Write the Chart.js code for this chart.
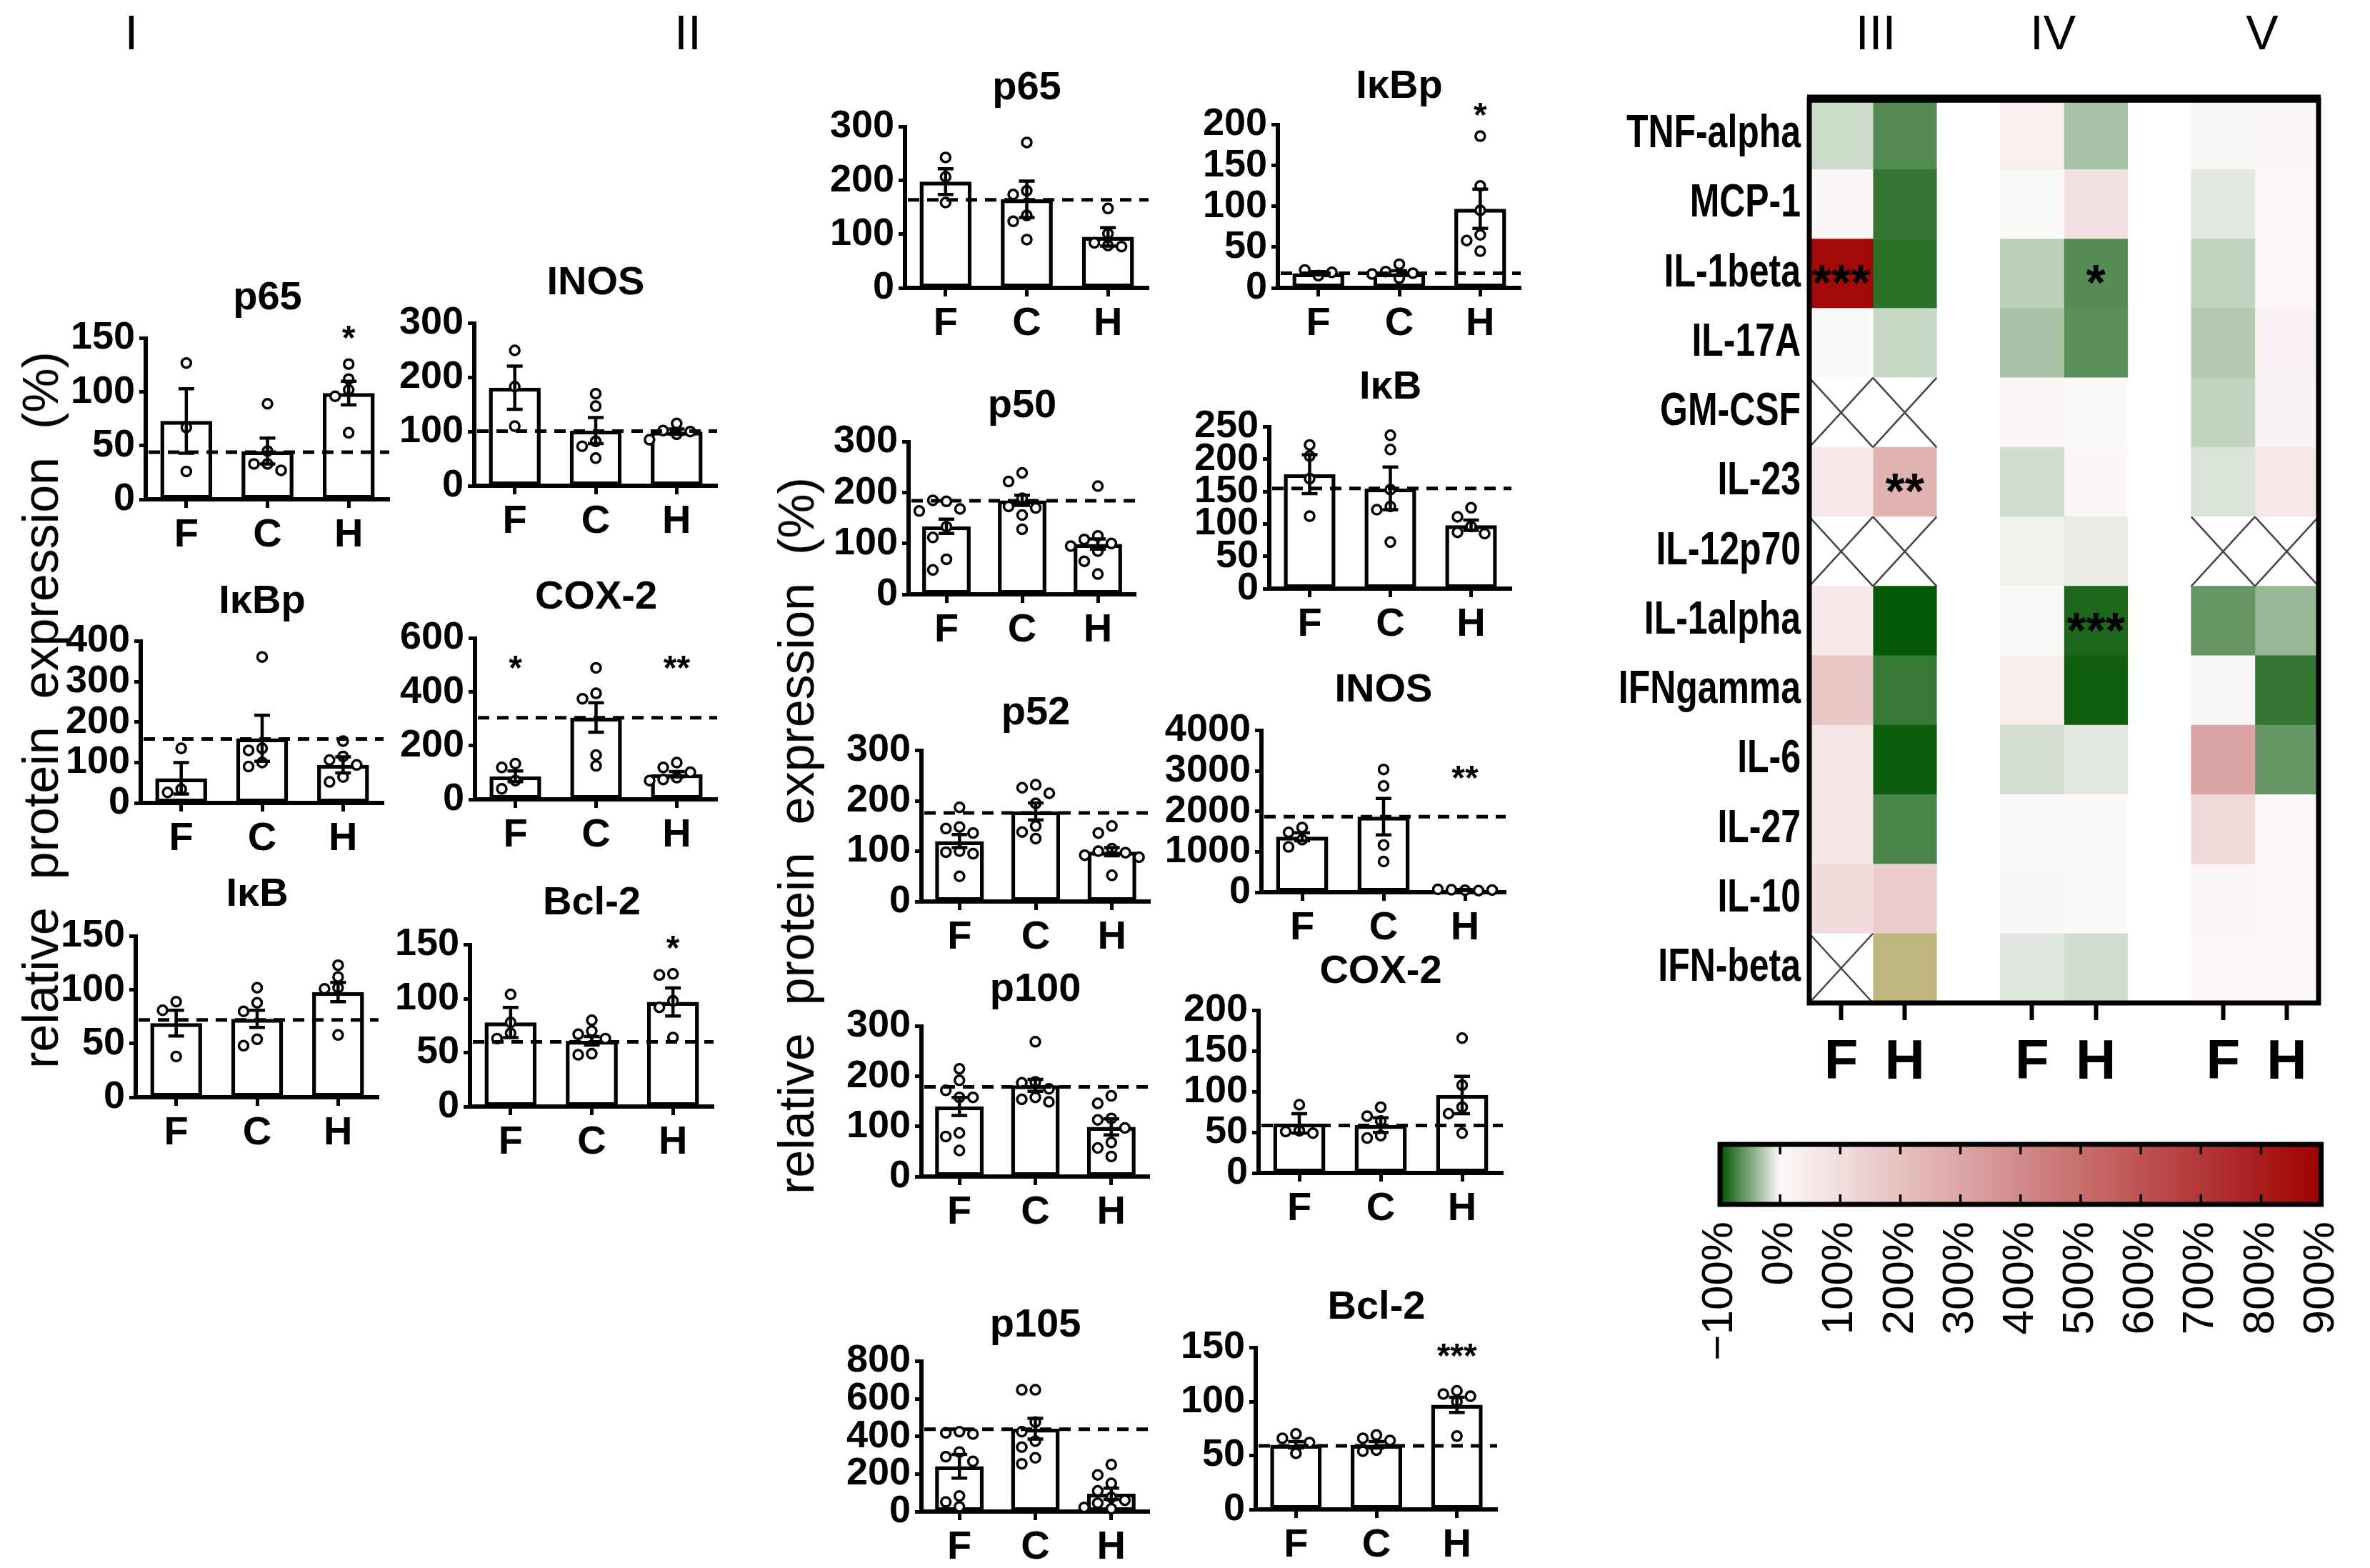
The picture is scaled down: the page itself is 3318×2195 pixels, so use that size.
<!DOCTYPE html>
<html><head><meta charset="utf-8">
<script src="https://cdn.jsdelivr.net/npm/chart.js@4.4.0/dist/chart.umd.min.js"></script>
<style>
html,body{margin:0;padding:0;background:#fff;}
#root{position:relative;width:3318px;height:2195px;overflow:hidden;background:#fff;}
#root canvas{position:absolute;}
.lbl{position:absolute;font-family:'Liberation Sans',Arial,sans-serif;color:#000;white-space:pre;line-height:1;}
</style></head><body><div id="root"></div>
<script>
// ---------------- DATA ----------------
const groups = ['F', 'C', 'H'];

// Section I / II (left)
const I_p65_mean = [73, 45, 99];
const I_p65_sem = [30, 12, 11];
const I_p65_ref = 44;
const I_p65_pts = [[127, 67, 26], [89, 45, 33, 33, 27], [126, 112, 102, 96, 62]];
const I_p65_sig = ['', '', '*'];
const I_p65_sigLevel = 155;

const I_INOS_mean = [181, 102, 100];
const I_INOS_sem = [40, 24, 5];
const I_INOS_ref = 101;
const I_INOS_pts = [[250, 183, 110], [170, 147, 82, 73, 51], [115, 102, 100, 95, 85]];
const I_INOS_sig = ['', '', ''];
const I_INOS_sigLevel = 0;

const I_IkBp_mean = [61, 160, 94];
const I_IkBp_sem = [39, 57, 20];
const I_IkBp_ref = 158;
const I_IkBp_pts = [[135, 34, 26], [361, 135, 130, 100, 90], [153, 115, 106, 94, 64, 52]];
const I_IkBp_sig = ['', '', ''];
const I_IkBp_sigLevel = 0;

const I_COX2_mean = [86, 305, 94];
const I_COX2_sem = [20, 55, 10];
const I_COX2_ref = 304;
const I_COX2_pts = [[133, 119, 70, 39], [490, 395, 375, 165, 125], [137, 119, 101, 81, 74, 70]];
const I_COX2_sig = ['*', '', '**'];
const I_COX2_sigLevel = 510;

const I_IkB_mean = [69, 73, 98];
const I_IkB_sem = [12, 8, 9];
const I_IkB_ref = 72;
const I_IkB_pts = [[89, 81, 38], [102, 88, 80, 54, 48], [123, 112, 102, 101, 58]];
const I_IkB_sig = ['', '', ''];
const I_IkB_sigLevel = 0;

const I_Bcl2_mean = [78, 61, 97];
const I_Bcl2_sem = [14, 4, 13];
const I_Bcl2_ref = 60;
const I_Bcl2_pts = [[104, 78, 68, 63], [80, 70, 67, 63, 49, 48], [123, 122, 98, 92, 64]];
const I_Bcl2_sig = ['', '', '*'];
const I_Bcl2_sigLevel = 152;

// Middle section
const II_p65_mean = [198, 165, 95];
const II_p65_sem = [24, 34, 17];
const II_p65_ref = 164;
const II_p65_pts = [[243, 207, 159], [271, 181, 174, 135, 124, 90], [148, 101, 84, 79, 77]];
const II_p65_sig = ['', '', ''];
const II_p65_sigLevel = 0;

const II_IkBp_mean = [18, 18, 97];
const II_IkBp_sem = [2, 3, 24];
const II_IkBp_ref = 18;
const II_IkBp_pts = [[15, 22, 19], [29, 20, 18, 17, 12], [186, 125, 95, 65, 58, 45]];
const II_IkBp_sig = ['', '', '*'];
const II_IkBp_sigLevel = 218;

const II_p50_mean = [134, 185, 99];
const II_p50_sem = [14, 10, 10];
const II_p50_ref = 184;
const II_p50_pts = [[183, 185, 168, 164, 133, 112, 69, 48], [239, 222, 189, 173, 170, 156, 128], [213, 115, 108, 100, 95, 85, 65, 40]];
const II_p50_sig = ['', '', ''];
const II_p50_sigLevel = 0;

const II_IkB_mean = [177, 155, 98];
const II_IkB_sem = [30, 33, 8];
const II_IkB_ref = 155;
const II_IkB_pts = [[222, 205, 170, 112], [237, 215, 153, 127, 122, 72], [125, 111, 96, 87, 85]];
const II_IkB_sig = ['', '', ''];
const II_IkB_sigLevel = 0;

const II_p52_mean = [120, 179, 99];
const II_p52_sem = [13, 17, 8];
const II_p52_ref = 176;
const II_p52_pts = [[187, 148, 145, 136, 100, 98, 95, 50], [232, 226, 215, 195, 150, 138, 125], [150, 136, 105, 100, 97, 92, 88, 52]];
const II_p52_sig = ['', '', ''];
const II_p52_sigLevel = 0;

const II_INOS_mean = [1372, 1869, 55];
const II_INOS_sem = [100, 450, 10];
const II_INOS_ref = 1869;
const II_INOS_pts = [[1600, 1480, 1300, 1120], [3036, 2628, 1168, 759], [50, 60, 40, 70, 55]];
const II_INOS_sig = ['', '', '**'];
const II_INOS_sigLevel = 2960;

const II_p100_mean = [140, 182, 99];
const II_p100_sem = [18, 12, 16];
const II_p100_ref = 179;
const II_p100_pts = [[215, 192, 172, 158, 158, 87, 80, 52], [269, 189, 187, 175, 158, 154, 149], [161, 146, 116, 113, 97, 68, 57, 40]];
const II_p100_sig = ['', '', ''];
const II_p100_sigLevel = 0;

const II_COX2_mean = [61, 59, 96];
const II_COX2_sem = [12, 9, 23];
const II_COX2_ref = 58.5;
const II_COX2_pts = [[84, 52, 51, 49], [81, 70, 64, 46, 43], [166, 108, 81, 73, 49]];
const II_COX2_sig = ['', '', ''];
const II_COX2_sigLevel = 0;

const II_p105_mean = [241, 441, 95];
const II_p105_sem = [63, 55, 30];
const II_p105_ref = 438;
const II_p105_pts = [[425, 419, 413, 317, 292, 267, 83, 51, 25], [648, 648, 476, 425, 375, 343, 286, 254], [250, 195, 150, 110, 75, 60, 45, 22, 15]];
const II_p105_sig = ['', '', ''];
const II_p105_sigLevel = 0;

const II_Bcl2_mean = [60, 60, 97];
const II_Bcl2_sem = [3, 3, 7];
const II_Bcl2_ref = 59;
const II_Bcl2_pts = [[70, 66, 62, 52], [69, 66, 64, 55, 54], [110, 107, 105, 100, 68]];
const II_Bcl2_sig = ['', '', '***'];
const II_Bcl2_sigLevel = 147;

// Heatmap (percent change; null = not measured)
const heatRows = ['TNF-alpha', 'MCP-1', 'IL-1beta', 'IL-17A', 'GM-CSF', 'IL-23', 'IL-12p70', 'IL-1alpha', 'IFNgamma', 'IL-6', 'IL-27', 'IL-10', 'IFN-beta'];
const heatIII_F = [-19, 7, 865, 0, null, 60, null, 60, 185, 70, 70, 110, null];
const heatIII_H = [-67, -80, -83, -21, null, 256, null, -98, -78, -95, -71, 160, 1000];
const heatIV_F = [35, 0, -25, -33, 18, -17, -5, 5, 40, -16, 0, -1, -11];
const heatIV_H = [-33, 90, -66, -64, 0, 7, -8, -89, -94, -10, 0, 0, -17];
const heatV_F = [-2, -10, -23, -29, -23, -13, null, -60, -1, 303, 120, 18, 2];
const heatV_H = [18, 3, 3, 30, 20, 60, null, -40, -80, -60, 3, 3, 2];
const heatColLabels = ['F', 'H', '', 'F', 'H', '', 'F', 'H'];
const heatStars = [[0, 2, '***'], [1, 5, '**'], [4, 2, '*'], [4, 7, '***']]; // [column, row, label]
const colorbarTicks = [-100, 0, 100, 200, 300, 400, 500, 600, 700, 800, 900];

// ---------------- LAYOUT (pixels) ----------------
const LAYOUT = {
  I_p65: {L: 204, R: 545, TOP: 474, ZERO: 699, TY: 418},
  I_INOS: {L: 664, R: 1004, TOP: 453, ZERO: 680, TY: 397},
  I_IkBp: {L: 197, R: 537, TOP: 898, ZERO: 1124, TY: 843},
  I_COX2: {L: 665, R: 1004, TOP: 894, ZERO: 1119, TY: 837},
  I_IkB: {L: 190, R: 530, TOP: 1311, ZERO: 1536, TY: 1253},
  I_Bcl2: {L: 658, R: 999, TOP: 1323, ZERO: 1549, TY: 1265},
  II_p65: {L: 1267, R: 1608, TOP: 178, ZERO: 403, TY: 124},
  II_IkBp: {L: 1789, R: 2129, TOP: 175, ZERO: 403, TY: 122},
  II_p50: {L: 1272, R: 1590, TOP: 619, ZERO: 832, TY: 569},
  II_IkB: {L: 1777, R: 2116, TOP: 598, ZERO: 824, TY: 543},
  II_p52: {L: 1290, R: 1610, TOP: 1051, ZERO: 1262, TY: 999},
  II_INOS: {L: 1766, R: 2108, TOP: 1023, ZERO: 1249, TY: 967},
  II_p100: {L: 1290, R: 1609, TOP: 1437, ZERO: 1647, TY: 1386},
  II_COX2: {L: 1762, R: 2104, TOP: 1415, ZERO: 1642, TY: 1361},
  II_p105: {L: 1290, R: 1609, TOP: 1906, ZERO: 2116, TY: 1856},
  II_Bcl2: {L: 1758, R: 2096, TOP: 1887, ZERO: 2113, TY: 1831}
};

const PANELS = [
  {id: 'I_p65', title: 'p65', ymax: 150, step: 50, mean: I_p65_mean, sem: I_p65_sem, ref: I_p65_ref, pts: I_p65_pts, sig: I_p65_sig, sigLevel: I_p65_sigLevel},
  {id: 'I_INOS', title: 'INOS', ymax: 300, step: 100, mean: I_INOS_mean, sem: I_INOS_sem, ref: I_INOS_ref, pts: I_INOS_pts, sig: I_INOS_sig, sigLevel: I_INOS_sigLevel},
  {id: 'I_IkBp', title: 'IκBp', ymax: 400, step: 100, mean: I_IkBp_mean, sem: I_IkBp_sem, ref: I_IkBp_ref, pts: I_IkBp_pts, sig: I_IkBp_sig, sigLevel: I_IkBp_sigLevel},
  {id: 'I_COX2', title: 'COX-2', ymax: 600, step: 200, mean: I_COX2_mean, sem: I_COX2_sem, ref: I_COX2_ref, pts: I_COX2_pts, sig: I_COX2_sig, sigLevel: I_COX2_sigLevel},
  {id: 'I_IkB', title: 'IκB', ymax: 150, step: 50, mean: I_IkB_mean, sem: I_IkB_sem, ref: I_IkB_ref, pts: I_IkB_pts, sig: I_IkB_sig, sigLevel: I_IkB_sigLevel},
  {id: 'I_Bcl2', title: 'Bcl-2', ymax: 150, step: 50, mean: I_Bcl2_mean, sem: I_Bcl2_sem, ref: I_Bcl2_ref, pts: I_Bcl2_pts, sig: I_Bcl2_sig, sigLevel: I_Bcl2_sigLevel},
  {id: 'II_p65', title: 'p65', ymax: 300, step: 100, mean: II_p65_mean, sem: II_p65_sem, ref: II_p65_ref, pts: II_p65_pts, sig: II_p65_sig, sigLevel: II_p65_sigLevel},
  {id: 'II_IkBp', title: 'IκBp', ymax: 200, step: 50, mean: II_IkBp_mean, sem: II_IkBp_sem, ref: II_IkBp_ref, pts: II_IkBp_pts, sig: II_IkBp_sig, sigLevel: II_IkBp_sigLevel},
  {id: 'II_p50', title: 'p50', ymax: 300, step: 100, mean: II_p50_mean, sem: II_p50_sem, ref: II_p50_ref, pts: II_p50_pts, sig: II_p50_sig, sigLevel: II_p50_sigLevel},
  {id: 'II_IkB', title: 'IκB', ymax: 250, step: 50, mean: II_IkB_mean, sem: II_IkB_sem, ref: II_IkB_ref, pts: II_IkB_pts, sig: II_IkB_sig, sigLevel: II_IkB_sigLevel},
  {id: 'II_p52', title: 'p52', ymax: 300, step: 100, mean: II_p52_mean, sem: II_p52_sem, ref: II_p52_ref, pts: II_p52_pts, sig: II_p52_sig, sigLevel: II_p52_sigLevel},
  {id: 'II_INOS', title: 'INOS', ymax: 4000, step: 1000, mean: II_INOS_mean, sem: II_INOS_sem, ref: II_INOS_ref, pts: II_INOS_pts, sig: II_INOS_sig, sigLevel: II_INOS_sigLevel},
  {id: 'II_p100', title: 'p100', ymax: 300, step: 100, mean: II_p100_mean, sem: II_p100_sem, ref: II_p100_ref, pts: II_p100_pts, sig: II_p100_sig, sigLevel: II_p100_sigLevel},
  {id: 'II_COX2', title: 'COX-2', ymax: 200, step: 50, mean: II_COX2_mean, sem: II_COX2_sem, ref: II_COX2_ref, pts: II_COX2_pts, sig: II_COX2_sig, sigLevel: II_COX2_sigLevel},
  {id: 'II_p105', title: 'p105', ymax: 800, step: 200, mean: II_p105_mean, sem: II_p105_sem, ref: II_p105_ref, pts: II_p105_pts, sig: II_p105_sig, sigLevel: II_p105_sigLevel},
  {id: 'II_Bcl2', title: 'Bcl-2', ymax: 150, step: 50, mean: II_Bcl2_mean, sem: II_Bcl2_sem, ref: II_Bcl2_ref, pts: II_Bcl2_pts, sig: II_Bcl2_sig, sigLevel: II_Bcl2_sigLevel}
];

// ---------------- RENDERING ----------------
const FONT = "'Liberation Sans', Arial, sans-serif";
Chart.defaults.font.family = FONT;
Chart.defaults.color = '#000';
Chart.defaults.animation = false;
Chart.defaults.plugins.legend.display = false;
Chart.defaults.plugins.tooltip.enabled = false;
Chart.defaults.events = [];

const root = document.getElementById('root');

function makeCanvas(left, top, w, h) {
  const c = document.createElement('canvas');
  c.width = Math.round(w); c.height = Math.round(h);
  c.style.left = Math.round(left) + 'px'; c.style.top = Math.round(top) + 'px';
  c.style.width = Math.round(w) + 'px'; c.style.height = Math.round(h) + 'px';
  root.appendChild(c);
  return c;
}

function addText(text, x, y, size, extraTransform, weight) {
  const d = document.createElement('div');
  d.className = 'lbl';
  d.textContent = text;
  d.style.left = x + 'px'; d.style.top = y + 'px';
  d.style.fontSize = size + 'px';
  d.style.fontWeight = weight || 'normal';
  d.style.transform = 'translate(-50%,-50%)' + (extraTransform || '');
  root.appendChild(d);
}

// simple beeswarm: horizontal offsets (in category units) so circles do not overlap
function swarm(vals, pxPerUnit, catPx) {
  const placed = [], out = [];
  const D = 15, STEP = 19;
  vals.forEach(v => {
    const y = v * pxPerUnit;
    let off = 0;
    for (const c of [0, -1, 1, -2, 2, -3, 3, -4, 4]) {
      const o = c * STEP;
      if (placed.every(p => Math.hypot(p.o - o, p.y - y) >= D)) { off = o; break; }
    }
    placed.push({o: off, y});
    out.push(off / catPx);
  });
  return out;
}

function makeExtras(p) {
  return {
    id: 'extras',
    afterDatasetsDraw(chart) {
      const ctx = chart.ctx, xs = chart.scales.x, ys = chart.scales.y, ca = chart.chartArea;
      ctx.save();
      ctx.strokeStyle = '#000';
      ctx.lineWidth = 4.5;
      p.mean.forEach((m, i) => {
        const x = xs.getPixelForValue(i);
        const yTop = ys.getPixelForValue(m + p.sem[i]);
        const yBot = ys.getPixelForValue(Math.max(0, m - p.sem[i]));
        ctx.beginPath();
        ctx.moveTo(x, yBot); ctx.lineTo(x, yTop);
        ctx.moveTo(x - 11, yTop); ctx.lineTo(x + 11, yTop);
        ctx.moveTo(x - 11, yBot); ctx.lineTo(x + 11, yBot);
        ctx.stroke();
      });
      ctx.setLineDash([16, 11]);
      ctx.lineWidth = 5;
      const yr = ys.getPixelForValue(p.ref);
      ctx.beginPath(); ctx.moveTo(ca.left + 4, yr); ctx.lineTo(ca.right, yr); ctx.stroke();
      ctx.setLineDash([]);
      ctx.fillStyle = '#000';
      ctx.font = 'bold 48px ' + FONT;
      ctx.textAlign = 'center';
      ctx.textBaseline = 'middle';
      p.sig.forEach((s, i) => {
        if (s) ctx.fillText(s, xs.getPixelForValue(i), ys.getPixelForValue(p.sigLevel) + 10);
      });
      ctx.restore();
    }
  };
}

const YW = 165, XH = 110, PT = 30, TFS = 56, TLH = TFS * 1.2;

function barPanel(p) {
  const lay = LAYOUT[p.id];
  const plotW = lay.R - lay.L, plotH = lay.ZERO - lay.TOP;
  const cTop = lay.TY - PT - TLH / 2;
  const left = lay.L - YW;
  const padR = 30;
  const w = YW + plotW + padR;
  const h = (lay.TOP - cTop) + plotH + XH;
  const cv = makeCanvas(left, cTop, w, h);
  const catPx = plotW / 3, pxPerUnit = plotH / p.ymax;
  const scatter = [];
  p.pts.forEach((vals, gi) => {
    const offs = swarm(vals, pxPerUnit, catPx);
    vals.forEach((v, k) => scatter.push({x: gi + offs[k], y: v}));
  });
  new Chart(cv, {
    type: 'bar',
    data: {
      datasets: [
        {type: 'bar', data: p.mean.map((v, i) => ({x: i, y: v})), backgroundColor: '#fff', borderColor: '#000',
         borderWidth: 5.5, borderSkipped: false, barPercentage: 0.64, categoryPercentage: 1, order: 2},
        {type: 'scatter', data: scatter, pointRadius: 6.5, pointBorderWidth: 3.5, pointBackgroundColor: '#fff',
         pointBorderColor: '#000', showLine: false, order: 1, clip: false}
      ]
    },
    options: {
      responsive: false, devicePixelRatio: 1, animation: false, events: [],
      layout: {padding: {left: 0, right: padR, top: 0, bottom: 0}},
      plugins: {
        legend: {display: false}, tooltip: {enabled: false},
        title: {display: true, text: p.title, fullSize: false, color: '#000',
                font: {size: TFS, weight: 'bold', lineHeight: 1.2},
                padding: {top: PT, bottom: lay.TOP - lay.TY - TLH / 2}}
      },
      scales: {
        x: {type: 'linear', min: -0.5, max: 2.5, offset: false,
            afterBuildTicks: s => { s.ticks = [0, 1, 2].map(v => ({value: v})); },
            afterFit: s => { s.height = XH; },
            grid: {display: true, drawOnChartArea: false, drawTicks: true, tickLength: 12, tickWidth: 5, color: '#000', offset: false},
            border: {display: true, width: 6, color: '#000'},
            ticks: {callback: v => groups[v], font: {size: 56, weight: 'bold'}, color: '#000', padding: 5, autoSkip: false, maxRotation: 0}},
        y: {type: 'linear', min: 0, max: p.ymax,
            afterBuildTicks: s => {
              const t = [];
              for (let v = 0; v <= p.ymax + 1e-9; v += p.step) t.push({value: v});
              s.ticks = t;
            },
            afterFit: s => { s.width = YW; },
            ticks: {callback: v => String(v), font: {size: 54, weight: 'bold'}, color: '#000', padding: 6, autoSkip: false},
            grid: {display: true, drawOnChartArea: false, drawTicks: true, tickLength: 9, tickWidth: 5, color: '#000'},
            border: {display: true, width: 6, color: '#000'}}
      }
    },
    plugins: [makeExtras(p)]
  });
}

PANELS.forEach(barPanel);

// ---------- heatmap ----------
const GREEN = [0, 85, 0], WHITE = [252, 249, 249], RED = [158, 0, 0], OVER = [192, 182, 125];
function lerpC(a, b, t) { return a.map((v, i) => Math.round(v + (b[i] - v) * t)); }
function heatColor(v) {
  if (v === null || v === undefined) return '#ffffff';
  let c;
  if (v > 900) c = OVER;
  else if (v <= 0) c = lerpC(GREEN, WHITE, Math.max(0, (v + 100) / 100));
  else c = lerpC(WHITE, RED, v / 900);
  return 'rgb(' + c.join(',') + ')';
}

const heatColumns = [heatIII_F, heatIII_H, null, heatIV_F, heatIV_H, null, heatV_F, heatV_H];

(function heatmap() {
  const HL = 2533, HR = 3246, HT = 140, HB = 1404;
  const yw = 300, xh = 156;
  const cLeft = HL - yw, w = 1060, padR = w - yw - (HR - HL);
  const h = HB + xh;
  const cv = makeCanvas(cLeft, 0, w, h);
  const datasets = heatColumns.map(col => ({
    data: heatRows.map(() => 1),
    backgroundColor: heatRows.map((r, i) => col ? heatColor(col[i]) : 'rgba(0,0,0,0)'),
    borderWidth: 0, barPercentage: 1, categoryPercentage: 1
  }));
  const heatPlugin = {
    id: 'heatExtras',
    afterDatasetsDraw(chart) {
      const ctx = chart.ctx, xs = chart.scales.x, ys = chart.scales.y, ca = chart.chartArea;
      const rh = (ca.bottom - ca.top) / heatRows.length;
      ctx.save();
      // crossed cells (no data)
      ctx.strokeStyle = '#444'; ctx.lineWidth = 2.5;
      heatColumns.forEach((col, c) => {
        if (!col) return;
        col.forEach((v, r) => {
          if (v !== null) return;
          const x0 = xs.getPixelForValue(c), x1 = xs.getPixelForValue(c + 1);
          const yc = ys.getPixelForValue(r), y0 = yc - rh / 2, y1 = yc + rh / 2;
          ctx.beginPath(); ctx.moveTo(x0, y0); ctx.lineTo(x1, y1); ctx.moveTo(x1, y0); ctx.lineTo(x0, y1); ctx.stroke();
        });
      });
      // stars
      ctx.fillStyle = '#000'; ctx.font = 'bold 70px ' + FONT; ctx.textAlign = 'center'; ctx.textBaseline = 'middle';
      heatStars.forEach(([c, r, s]) => {
        ctx.fillText(s, (xs.getPixelForValue(c) + xs.getPixelForValue(c + 1)) / 2, ys.getPixelForValue(r) + 18);
      });
      // row labels (condensed bold, taken from the category axis)
      ctx.font = 'bold 64px ' + FONT; ctx.textAlign = 'right'; ctx.textBaseline = 'middle';
      ys.getLabels().forEach((lab, i) => {
        ctx.save();
        ctx.translate(ca.left - 12, ys.getPixelForValue(i));
        ctx.scale(0.78, 1);
        ctx.fillText(lab, 0, 0);
        ctx.restore();
      });
      // frame
      ctx.strokeStyle = '#000'; ctx.lineWidth = 7;
      ctx.strokeRect(ca.left, ca.top, ca.right - ca.left, ca.bottom - ca.top);
      ctx.lineWidth = 11;
      ctx.beginPath(); ctx.moveTo(ca.left - 3, ca.top - 2); ctx.lineTo(ca.right + 3, ca.top - 2); ctx.stroke();
      ctx.restore();
    }
  };
  new Chart(cv, {
    type: 'bar',
    data: {labels: heatRows, datasets},
    options: {
      indexAxis: 'y', responsive: false, devicePixelRatio: 1, animation: false, events: [],
      layout: {padding: {left: 0, right: padR, top: HT, bottom: 0}},
      plugins: {legend: {display: false}, tooltip: {enabled: false}},
      scales: {
        x: {type: 'linear', stacked: true, min: 0, max: heatColLabels.length, offset: false,
            afterBuildTicks: s => { s.ticks = heatColLabels.map((l, i) => l ? {value: i + 0.5} : null).filter(Boolean); },
            afterFit: s => { s.height = xh; },
            ticks: {callback: v => heatColLabels[Math.floor(v)], font: {size: 78, weight: 'bold'}, color: '#000', padding: 14, autoSkip: false, maxRotation: 0},
            grid: {display: true, drawOnChartArea: false, drawTicks: true, tickLength: 24, tickWidth: 6, color: '#000', offset: false},
            border: {display: false}},
        y: {type: 'category', stacked: true,
            afterFit: s => { s.width = yw; },
            ticks: {display: false, autoSkip: false},
            grid: {display: false}, border: {display: false}}
      }
    },
    plugins: [heatPlugin]
  });
})();

// ---------- colour bar ----------
(function colorbar() {
  const BL = 2408, BR = 3280, BT = 1602, BB = 1686;
  const pad = 60, xh = 270;
  const w = (BR - BL) + 2 * pad;
  const h = 40 + (BB - BT) + xh;
  const cv = makeCanvas(BL - pad, BT - 40, w, h);
  const cbMin = colorbarTicks[0], cbMax = colorbarTicks[colorbarTicks.length - 1];
  const framePlugin = {
    id: 'cbFrame',
    afterDatasetsDraw(chart) {
      const ctx = chart.ctx, xs = chart.scales.x, ca = chart.chartArea;
      ctx.save();
      ctx.strokeStyle = '#000'; ctx.lineWidth = 3.5;
      colorbarTicks.slice(1, -1).forEach(v => {
        const x = xs.getPixelForValue(v);
        ctx.beginPath(); ctx.moveTo(x, ca.top); ctx.lineTo(x, ca.top + 14);
        ctx.moveTo(x, ca.bottom); ctx.lineTo(x, ca.bottom - 14); ctx.stroke();
      });
      ctx.lineWidth = 7;
      ctx.strokeRect(ca.left, ca.top, ca.right - ca.left, ca.bottom - ca.top);
      ctx.restore();
    }
  };
  new Chart(cv, {
    type: 'bar',
    data: {labels: ['scale'], datasets: [{
      data: [[cbMin, cbMax]], borderWidth: 0, barPercentage: 1, categoryPercentage: 1,
      backgroundColor: (c) => {
        const chart = c.chart;
        if (!chart.chartArea) return '#fff';
        const xs = chart.scales.x;
        const g = chart.ctx.createLinearGradient(xs.getPixelForValue(cbMin), 0, xs.getPixelForValue(cbMax), 0);
        for (let v = cbMin; v <= cbMax; v += 10) g.addColorStop((v - cbMin) / (cbMax - cbMin), heatColor(v));
        return g;
      }
    }]},
    options: {
      indexAxis: 'y', responsive: false, devicePixelRatio: 1, animation: false, events: [],
      layout: {padding: {left: pad, right: pad, top: 40, bottom: 0}},
      plugins: {legend: {display: false}, tooltip: {enabled: false}},
      scales: {
        x: {type: 'linear', min: cbMin, max: cbMax,
            afterBuildTicks: s => { s.ticks = colorbarTicks.map(v => ({value: v})); },
            afterFit: s => { s.height = xh; },
            ticks: {callback: v => (v < 0 ? '\u2212' + Math.abs(v) : v) + '%', minRotation: 90, maxRotation: 90,
                    font: {size: 62}, color: '#000', padding: 16, autoSkip: false},
            grid: {display: false}, border: {display: false}},
        y: {display: false}
      }
    },
    plugins: [framePlugin]
  });
})();

// ---------- free text ----------
addText('I', 184, 45, 68);
addText('II', 963, 45, 68);
addText('III', 2626, 45, 68);
addText('IV', 2874, 45, 68);
addText('V', 3167, 45, 68);
addText('relative  protein  expression  (%)', 57, 994, 70, ' rotate(-90deg)');
addText('relative  protein  expression  (%)', 1115, 1170, 70, ' rotate(-90deg)');
</script>
</body></html>
